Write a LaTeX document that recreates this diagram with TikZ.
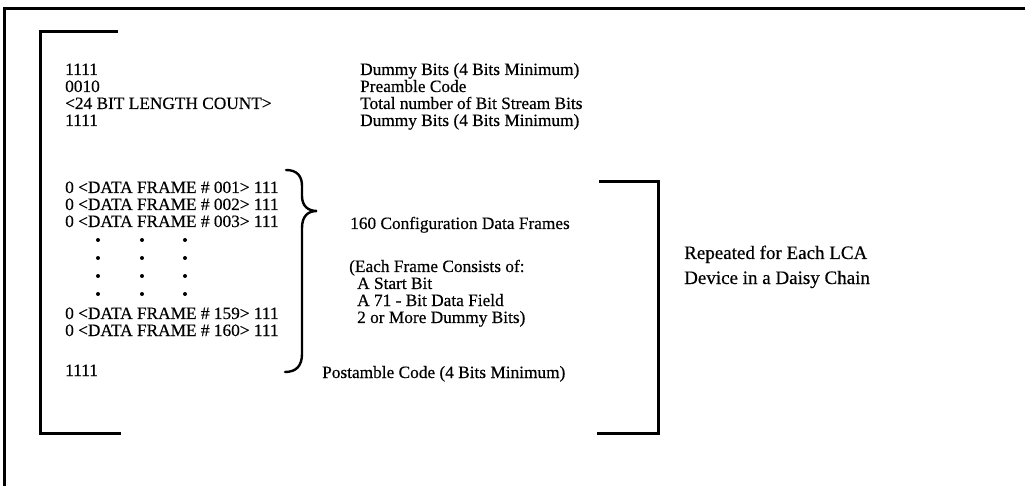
\documentclass[tikz,border=0pt]{standalone}
\usepackage{fontspec}
\setmainfont{Liberation Serif}[FakeBold=0.4]
\begin{document}
\begin{tikzpicture}[x=1pt,y=-1pt,
  txt/.style={anchor=base west,inner sep=0pt,font=\fontsize{17.3}{17}\selectfont},
  bigtxt/.style={anchor=base west,inner sep=0pt,font=\fontsize{19}{19}\selectfont},
  frameline/.style={line width=3pt},
  bracketline/.style={line width=3pt},
  braceline/.style={line width=2.4pt,line cap=round},
  dotmark/.style={fill=black}]
\useasboundingbox (0,0) rectangle (1025,486);
% outer frame (top and left)
\coordinate (ftr) at (1025,9);
\coordinate (ftl) at (4.5,9);
\coordinate (fbl) at (4.5,486);
\draw[frameline] (ftr) -- (ftl) -- (fbl);
% left bracket
\coordinate (lb1) at (118,32);
\coordinate (lb2) at (40,32);
\coordinate (lb3) at (40,433);
\coordinate (lb4) at (121,433);
\draw[bracketline] (lb1) -- (lb2) -- (lb3) -- (lb4);
% right bracket
\coordinate (rb1) at (599,182);
\coordinate (rb2) at (658,182);
\coordinate (rb3) at (658,433);
\coordinate (rb4) at (597,433);
\draw[bracketline] (rb1) -- (rb2) -- (rb3) -- (rb4);
% header lines
\node[txt] (h1) at (65,75) {1111};
\node[txt] (h2) at (65,92) {0010};
\node[txt] (h3) at (65,109) {<24 BIT LENGTH COUNT>};
\node[txt] (h4) at (65,126) {1111};
\node[txt] (d1) at (360,75) {Dummy Bits (4 Bits Minimum)};
\node[txt] (d2) at (360,92) {Preamble Code};
\node[txt] (d3) at (360,109) {Total number of Bit Stream Bits};
\node[txt] (d4) at (360,126) {Dummy Bits (4 Bits Minimum)};
% data frames
\node[txt] (f1) at (65,193) {0 <DATA FRAME \# 001> 111};
\node[txt] (f2) at (65,210) {0 <DATA FRAME \# 002> 111};
\node[txt] (f3) at (65,227) {0 <DATA FRAME \# 003> 111};
\node[txt] (f159) at (65,319) {0 <DATA FRAME \# 159> 111};
\node[txt] (f160) at (65,336) {0 <DATA FRAME \# 160> 111};
\node[txt] (post) at (65,376) {1111};
% dots
\foreach \yy in {240,258,276,294}{
  \foreach \xx in {98,142,185}{
    \fill[dotmark] (\xx,\yy) circle (2pt);
  }
}
% brace
\coordinate (bt) at (286,170);
\coordinate (btip) at (317,211);
\coordinate (bb) at (285,372);
\draw[braceline] (bt) .. controls (297,170) and (302,176) .. (302,186)
  -- (302,196) .. controls (302,206) and (308,211) .. (btip)
  .. controls (308,211) and (302,216) .. (302,228)
  -- (302,354) .. controls (302,366) and (296,372) .. (bb);
% descriptions
\node[txt] (c1) at (350,229) {160 Configuration Data Frames};
\node[txt] (c2) at (349,272) {(Each Frame Consists of:};
\node[txt] (c3) at (357,289) {A Start Bit};
\node[txt] (c4) at (357,306) {A 71 - Bit Data Field};
\node[txt] (c5) at (357,323) {2 or More Dummy Bits)};
\node[txt] (pc) at (322,378) {Postamble Code (4 Bits Minimum)};
% repeated
\node[bigtxt] (r1) at (684,259) {Repeated for Each LCA};
\node[bigtxt] (r2) at (684,284) {Device in a Daisy Chain};
\end{tikzpicture}
\end{document}
